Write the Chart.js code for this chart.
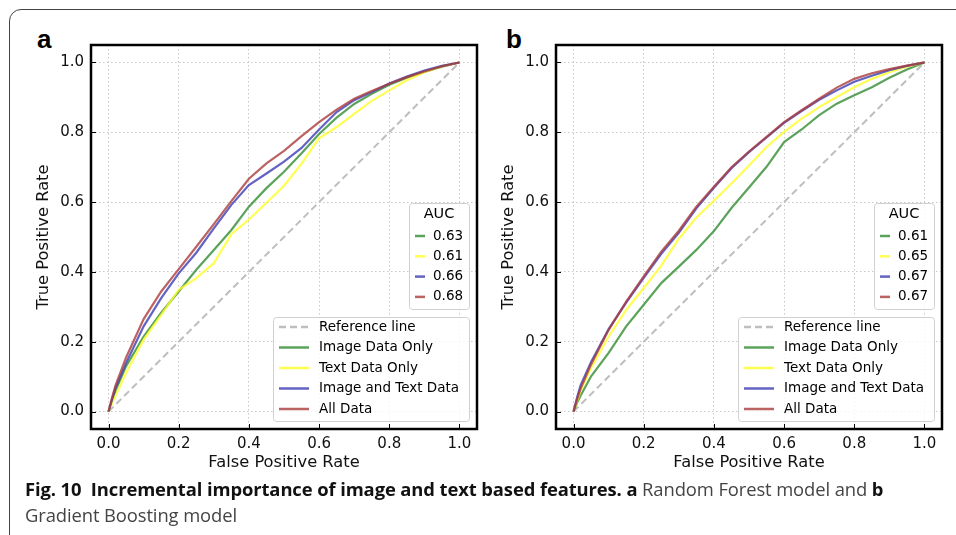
<!DOCTYPE html>
<html lang="en">
  <head>
    <meta charset="UTF-8" />
    <title>ROC curves</title>
    <script src="https://cdn.jsdelivr.net/npm/chart.js@4"></script>
    <style>
      body { margin: 0; width: 956px; height: 535px; overflow: hidden; background: #fff; position: relative; }
      #frame { position: absolute; left: 9px; top: 9px; width: 1000px; height: 600px; border: 1.5px solid #444; border-radius: 12px; }
      .panel { position: absolute; top: 26px; font: bold 26px "Liberation Sans", Arial, sans-serif; line-height: 26px; color: #000; }
      canvas { position: absolute; top: 0; }
      #caption { position: absolute; left: 25px; top: 476px; width: 925px; font: 18.4px "Open Sans", sans-serif; line-height: 26px; color: #444; letter-spacing: -0.1px; }
      #caption b { color: #111; }
    </style>
  </head>
  <body>
    <div id="frame"></div>
    <div class="panel" style="left: 37px">a</div>
    <div class="panel" style="left: 506px">b</div>
    <canvas id="rocA" width="480" height="480" style="left: 0"></canvas>
    <canvas id="rocB" width="480" height="480" style="left: 465px"></canvas>
    <div id="caption">
      <b>Fig. 10&nbsp; Incremental importance of image and text based features. a</b> Random Forest model and <b>b</b><br />
      Gradient Boosting model
    </div>
  </body>
  <script>
    const fpr = [0, 0.01, 0.02, 0.05, 0.1, 0.15, 0.2, 0.25, 0.3, 0.35, 0.4, 0.45, 0.5, 0.55, 0.6, 0.65, 0.7, 0.75, 0.8, 0.85, 0.9, 0.95, 1];
    const refLine = [0, 1];
    const tickVals = [0, 0.2, 0.4, 0.6, 0.8, 1];
    const seriesNames = ["Image Data Only", "Text Data Only", "Image and Text Data", "All Data"];

    // a: Random Forest
    const imageA = [0, 0.03, 0.06, 0.13, 0.215, 0.283, 0.344, 0.406, 0.463, 0.52, 0.587, 0.64, 0.687, 0.74, 0.795, 0.842, 0.881, 0.91, 0.936, 0.956, 0.973, 0.988, 1];
    const textA = [0, 0.025, 0.045, 0.111, 0.206, 0.277, 0.349, 0.382, 0.425, 0.508, 0.55, 0.598, 0.647, 0.71, 0.783, 0.815, 0.853, 0.89, 0.92, 0.949, 0.972, 0.989, 1];
    const bothA = [0, 0.035, 0.068, 0.139, 0.244, 0.325, 0.396, 0.455, 0.525, 0.592, 0.649, 0.682, 0.716, 0.755, 0.808, 0.858, 0.892, 0.915, 0.94, 0.96, 0.977, 0.99, 1];
    const allA = [0, 0.04, 0.075, 0.155, 0.265, 0.344, 0.408, 0.472, 0.537, 0.603, 0.667, 0.711, 0.747, 0.789, 0.829, 0.865, 0.896, 0.918, 0.939, 0.958, 0.974, 0.989, 1];
    const aucA = ["0.63", "0.61", "0.66", "0.68"];

    // b: Gradient Boosting
    const imageB = [0, 0.025, 0.045, 0.101, 0.168, 0.244, 0.306, 0.368, 0.415, 0.463, 0.517, 0.583, 0.642, 0.701, 0.772, 0.808, 0.849, 0.882, 0.906, 0.929, 0.956, 0.98, 1];
    const textB = [0, 0.03, 0.06, 0.125, 0.215, 0.291, 0.354, 0.418, 0.495, 0.556, 0.604, 0.653, 0.705, 0.758, 0.801, 0.839, 0.872, 0.901, 0.929, 0.953, 0.972, 0.988, 1];
    const bothB = [0, 0.04, 0.075, 0.142, 0.236, 0.312, 0.383, 0.452, 0.512, 0.582, 0.641, 0.697, 0.743, 0.785, 0.827, 0.861, 0.893, 0.92, 0.945, 0.962, 0.978, 0.99, 1];
    const allB = [0, 0.035, 0.065, 0.135, 0.234, 0.315, 0.387, 0.458, 0.518, 0.587, 0.644, 0.7, 0.745, 0.787, 0.829, 0.863, 0.896, 0.928, 0.953, 0.969, 0.981, 0.991, 1];
    const aucB = ["0.61", "0.65", "0.67", "0.67"];

    const colors = ["rgba(50,140,50,0.8)", "rgba(255,255,40,0.8)", "rgba(60,60,180,0.8)", "rgba(170,60,60,0.8)"];
    const refColor = "rgba(190,190,190,1)";

    const pts = (ys) => ys.map((y, i) => ({x: fpr[i], y: y}));

    // frame, inward ticks and the two legend boxes
    const rocDecor = {
      id: "rocDecor",
      afterDatasetsDraw(chart, args, opts) {
        const {ctx, chartArea: a, scales} = chart;
        ctx.save();
        ctx.strokeStyle = "#000";
        ctx.lineWidth = 1;
        tickVals.forEach((v) => {
          const px = Math.round(scales.x.getPixelForValue(v)) + 0.5;
          const py = Math.round(scales.y.getPixelForValue(v)) + 0.5;
          ctx.beginPath();
          ctx.moveTo(px, a.bottom); ctx.lineTo(px, a.bottom - 5);
          ctx.moveTo(a.left, py); ctx.lineTo(a.left + 5, py);
          ctx.stroke();
        });
        ctx.lineWidth = 2.5;
        ctx.strokeRect(a.left, a.top, a.right - a.left, a.bottom - a.top);

        const box = (l, t, w, h) => {
          ctx.beginPath();
          ctx.roundRect(l + 0.5, t + 0.5, w, h, 3);
          ctx.fillStyle = "rgba(255,255,255,0.8)";
          ctx.fill();
          ctx.strokeStyle = "#d0d0d0";
          ctx.lineWidth = 1;
          ctx.stroke();
        };
        const seg = (x1, x2, y, color, dash) => {
          ctx.beginPath();
          ctx.setLineDash(dash || []);
          ctx.strokeStyle = color;
          ctx.lineWidth = 2.5;
          ctx.moveTo(x1, y); ctx.lineTo(x2, y);
          ctx.stroke();
          ctx.setLineDash([]);
        };
        ctx.font = '13.5px "DejaVu Sans"';
        ctx.textBaseline = "middle";

        // AUC box
        const al = a.right - 68, at = a.top + 158;
        box(al, at, 60, 106);
        ctx.fillStyle = "#000";
        ctx.textAlign = "center";
        ctx.font = '14.5px "DejaVu Sans"';
        ctx.fillText("AUC", al + 30, at + 11);
        ctx.font = '13.5px "DejaVu Sans"';
        ctx.textAlign = "left";
        opts.auc.forEach((v, i) => {
          const yy = at + 33 + i * 20.3;
          seg(al + 6, al + 16, yy, colors[i]);
          ctx.fillStyle = "#000";
          ctx.fillText(v, al + 24, yy);
        });

        // series legend
        const ml = a.right - 204, mt = a.top + 272;
        box(ml, mt, 196, 104);
        const rows = ["Reference line"].concat(seriesNames);
        rows.forEach((name, i) => {
          const yy = mt + 10 + i * 20.5;
          if (i === 0) seg(ml + 6, ml + 36, yy, refColor, [7, 4]);
          else seg(ml + 6, ml + 36, yy, colors[i - 1]);
          ctx.fillStyle = "#000";
          ctx.fillText(name, ml + 46, yy);
        });
        ctx.restore();
      },
    };

    function makeRoc(id, series, auc) {
      const datasets = [
        {
          label: "Reference line",
          data: refLine.map((v) => ({x: v, y: v})),
          borderColor: refColor,
          borderDash: [7, 4],
          borderWidth: 2,
          order: 5,
        },
      ];
      series.forEach((ys, i) => {
        datasets.push({
          label: seriesNames[i],
          data: pts(ys),
          borderColor: colors[i],
          borderWidth: 2.2,
          order: 4 - i,
        });
      });
      const tickFont = {family: "DejaVu Sans", size: 15};
      const axis = (title, fit) => ({
        type: "linear",
        min: -0.05,
        max: 1.05,
        afterBuildTicks: (s) => { s.ticks = tickVals.map((v) => ({value: v})); },
        afterFit: fit,
        grid: {color: "#c8c8c8", lineWidth: 1, drawTicks: false},
        border: {display: false, dash: [1.5, 2.5]},
        ticks: {font: tickFont, color: "#111", padding: 7, callback: (v) => v.toFixed(1)},
        title: {display: true, text: title, font: {family: "DejaVu Sans", size: 16.3}, color: "#111"},
      });
      const x = axis("False Positive Rate", (s) => { s.height = 51; });
      x.title.padding = {top: 0, bottom: 7};
      x.ticks.padding = 6;
      const y = axis("True Positive Rate", (s) => { s.width = 91; });
      y.title.padding = {top: 34, bottom: 0};
      new Chart(document.getElementById(id), {
        type: "scatter",
        data: {datasets: datasets},
        options: {
          responsive: false,
          animation: false,
          devicePixelRatio: 1,
          showLine: true,
          elements: {point: {radius: 0}, line: {tension: 0}},
          layout: {padding: {top: 45, right: 3, left: 0, bottom: 0}},
          scales: {x: x, y: y},
          plugins: {legend: {display: false}, tooltip: {enabled: false}, rocDecor: {auc: auc}},
        },
        plugins: [rocDecor],
      });
    }

    makeRoc("rocA", [imageA, textA, bothA, allA], aucA);
    makeRoc("rocB", [imageB, textB, bothB, allB], aucB);
  </script>
</html>
